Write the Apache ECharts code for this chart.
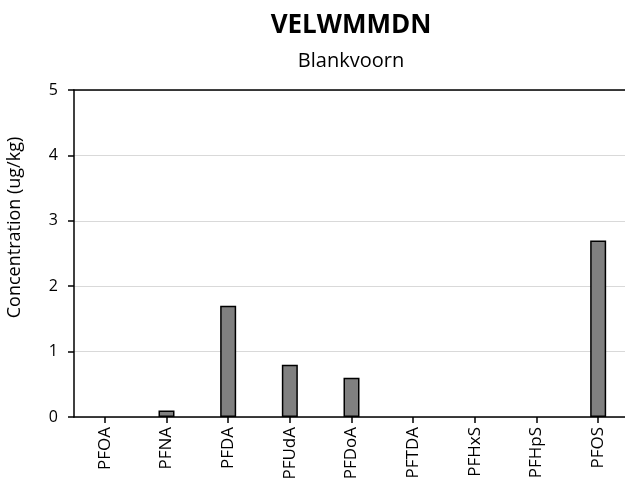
<!DOCTYPE html>
<html>
<head>
<meta charset="utf-8">
<script src="https://cdn.jsdelivr.net/npm/echarts@6/dist/echarts.min.js"></script>
<style>
  html, body { margin: 0; padding: 0; background: #fff; }
  #chart { width: 625px; height: 479px; }
</style>
</head>
<body>
<div id="chart"></div>
<script>
// Compounds measured and their concentrations (ug/kg)
const categories = ['PFOA', 'PFNA', 'PFDA', 'PFUdA', 'PFDoA', 'PFTDA', 'PFHxS', 'PFHpS', 'PFOS'];
const concentrations = [0, 0.1, 1.7, 0.8, 0.6, 0, 0, 0, 2.7];
const yTicks = [0, 1, 2, 3, 4, 5];

const titleText = 'VELWMMDN';
const subtitleText = 'Blankvoorn';
const yAxisName = 'Concentration (ug/kg)';

const font = '"Open Sans", "Noto Sans", sans-serif';

// zero results get no outline, so nothing shows on the baseline
const barData = concentrations.map(v => ({
  value: v,
  itemStyle: v === 0 ? { borderWidth: 0 } : undefined
}));

const chart = echarts.init(document.getElementById('chart'), null, { renderer: 'canvas' });

chart.setOption({
  animation: false,
  backgroundColor: '#ffffff',
  title: [{
    text: titleText,
    left: 346,
    textAlign: 'center',
    top: 8,
    textStyle: { fontFamily: font, fontSize: 26, fontWeight: 'bold', color: '#000' }
  }, {
    text: subtitleText,
    left: 346,
    textAlign: 'center',
    top: 46,
    textStyle: { fontFamily: font, fontSize: 20, fontWeight: 'normal', color: '#000' }
  }],
  grid: {
    left: 74,
    top: 90,
    width: 555,
    bottom: 62,
    show: false,
    outerBoundsMode: 'none',
    containLabel: false
  },
  xAxis: [{
    type: 'category',
    data: categories,
    boundaryGap: true,
    axisLine: { show: true, lineStyle: { color: '#000', width: 1.5 } },
    axisTick: { show: true, alignWithLabel: true, length: 6, lineStyle: { color: '#000', width: 1.5 } },
    axisLabel: {
      rotate: 90,
      interval: 0,
      margin: 10,
      fontFamily: font,
      fontSize: 17,
      color: '#000'
    },
    splitLine: { show: false }
  }, {
    // plain frame line along the top of the plot
    type: 'category',
    position: 'top',
    data: categories,
    axisLine: { show: true, lineStyle: { color: '#000', width: 1.5 } },
    axisTick: { show: false },
    axisLabel: { show: false },
    splitLine: { show: false }
  }],
  yAxis: {
    type: 'value',
    min: yTicks[0],
    max: yTicks[yTicks.length - 1],
    interval: 1,
    name: yAxisName,
    nameLocation: 'middle',
    nameGap: 50,
    nameTextStyle: { fontFamily: font, fontSize: 18, color: '#000', padding: [0, 0, 0, 52] },
    axisLine: { show: true, lineStyle: { color: '#000', width: 1.5 } },
    axisTick: { show: true, length: 6, lineStyle: { color: '#000', width: 1.5 } },
    axisLabel: { fontFamily: font, fontSize: 16, color: '#000', margin: 16 },
    splitLine: { show: true, lineStyle: { color: '#d9d9d9', width: 1 } }
  },
  series: [{
    type: 'bar',
    data: barData,
    barWidth: 16,
    itemStyle: {
      color: '#808080',
      borderColor: '#000',
      borderWidth: 1.5
    }
  }]
});
</script>
</body>
</html>
